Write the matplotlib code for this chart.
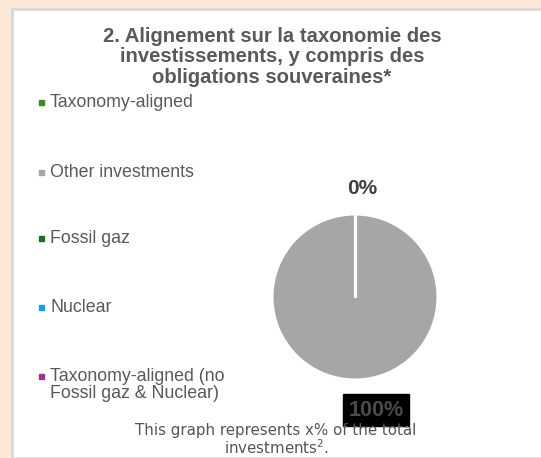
import matplotlib
matplotlib.use("Agg")
import numpy as np
import matplotlib.pyplot as plt
from matplotlib.patches import Rectangle
from matplotlib.lines import Line2D

# Data
pie_labels = ["Taxonomy-aligned", "Other investments"]
pie_values = [0, 100]
pie_colors = ["#3C8C2C", "#A6A6A6"]
value_labels = ["0%", "100%"]

legend_labels = ["Taxonomy-aligned", "Other investments", "Fossil gaz", "Nuclear",
                 "Taxonomy-aligned (no\nFossil gaz & Nuclear)"]
legend_colors = ["#3C8C2C", "#A6A6A6", "#1E6B2A", "#1B9DDB", "#A0309A"]

title = "2. Alignement sur la taxonomie des\ninvestissements, y compris des\nobligations souveraines*"
footnote_lines = ["This graph represents x% of the total", "investments$^{2}$."]

W, H = 541, 458
fig = plt.figure(figsize=(W / 100, H / 100), dpi=100)
fig.patch.set_facecolor("#FBE8D6")

def px(x, y):
    return x / W, 1 - y / H

# white panel with grey border
fig.patches.append(Rectangle((12 / W, 0), 1, 1 - 9 / H, transform=fig.transFigure,
                             facecolor="white", edgecolor="#D9D9D9", linewidth=2, zorder=-5))

TXT = "#595959"
fig.text(*px(272, 57), title, ha="center", va="center", fontsize=14.6, fontweight="bold",
         color=TXT, family="Liberation Sans", linespacing=1.13)

# pie
cx, cy, r = 355, 297, 83
ax = fig.add_axes([(cx - r) / W, 1 - (cy + r) / H, 2 * r / W, 2 * r / H])
wedges, _ = ax.pie(pie_values, colors=pie_colors, startangle=90, counterclock=False,
                   wedgeprops=dict(edgecolor="white", linewidth=2.2), radius=1)
# slice boundary of the zero-valued slice
for w in wedges:
    for th in (w.theta1, w.theta2):
        ax.plot([0, np.cos(np.radians(th))], [0, np.sin(np.radians(th))],
                color="white", linewidth=2.2, solid_capstyle="butt")
ax.set_xlim(-1, 1)
ax.set_ylim(-1, 1)
ax.set_aspect("auto")
ax.axis("off")

# data labels
fig.text(*px(362, 188), value_labels[0], ha="center", va="center", fontsize=15,
         fontweight="bold", color="#404040", family="Liberation Sans")
fig.text(*px(376, 410), value_labels[1], ha="center", va="center", fontsize=15.5,
         fontweight="bold", color="#4A4A4A", family="Liberation Sans",
         bbox=dict(boxstyle="square,pad=0.25", facecolor="black", edgecolor="black"))

# legend
ys = [102, 172, 238, 307, 376]
for lab, col, y in zip(legend_labels, legend_colors, ys):
    fig.add_artist(Line2D([41 / W], [1 - y / H], marker="s", markersize=3.6, color=col,
                          linestyle="none", transform=fig.transFigure))
    fig.text(*px(50, y - 8), lab, ha="left", va="top", fontsize=12.8, color=TXT,
             family="Liberation Sans", linespacing=1.0)

for line, y in zip(footnote_lines, [430, 448]):
    fig.text(*px(276, y), line, ha="center", va="center", fontsize=10.8, color="#555555",
             family="DejaVu Sans")

fig.savefig("out.png", dpi=100, facecolor=fig.get_facecolor())
